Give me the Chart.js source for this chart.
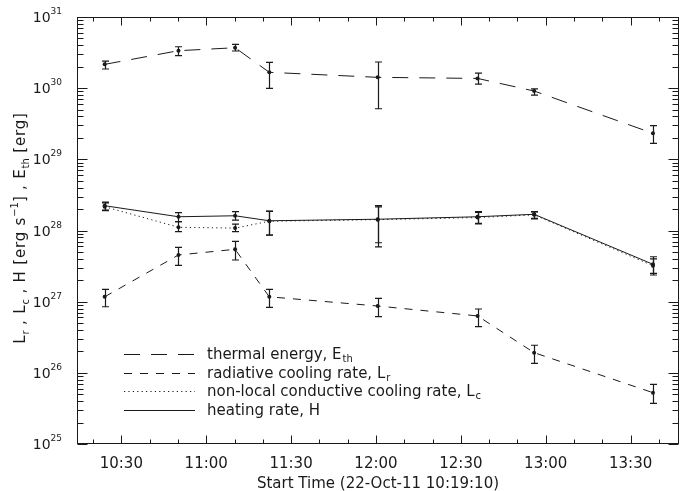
<!DOCTYPE html>
<html>
<head>
<meta charset="utf-8">
<script src="https://cdn.jsdelivr.net/npm/chart.js@4.4.1/dist/chart.umd.min.js"></script>
<style>
  html, body { margin: 0; padding: 0; background: #ffffff; }
  #chart { display: block; }
</style>
</head>
<body>
<canvas id="chart" width="683" height="491"></canvas>
<script>
// observation times, minutes after 10:00 UT
const timeMinutes = [24.1, 50.2, 70.2, 82.3, 120.6, 155.9, 175.9, 217.9];

// thermal energy E_th [erg]
const thermalEnergy = [2.16e30, 3.36e30, 3.70e30, 1.67e30, 1.42e30, 1.37e30, 9.12e29, 2.32e29];
const thermalLow    = [1.86e30, 2.86e30, 3.33e30, 9.96e29, 5.14e29, 1.14e30, 8.00e29, 1.68e29];
const thermalHigh   = [2.40e30, 3.82e30, 4.13e30, 2.31e30, 2.33e30, 1.63e30, 9.80e29, 2.97e29];

// radiative cooling rate L_r [erg s^-1]
const radiative     = [1.17e27, 4.53e27, 5.44e27, 1.17e27, 8.69e26, 6.30e26, 1.92e26, 5.26e25];
const radiativeLow  = [8.49e26, 3.24e27, 3.85e27, 8.33e26, 6.15e26, 4.45e26, 1.36e26, 3.73e25];
const radiativeHigh = [1.49e27, 5.81e27, 7.05e27, 1.49e27, 1.11e27, 7.89e26, 2.44e26, 6.90e25];

// non-local conductive cooling rate L_c [erg s^-1]
const conductive     = [2.16e28, 1.11e28, 1.08e28, 1.35e28, 1.42e28, 1.52e28, 1.66e28, 3.20e27];
const conductiveLow  = [1.90e28, 9.62e27, 9.62e27, 8.60e27, 5.90e27, 1.24e28, 1.46e28, 2.50e27];
const conductiveHigh = [2.45e28, 1.33e28, 1.23e28, 1.86e28, 2.15e28, 1.80e28, 1.82e28, 4.00e27];

// heating rate H [erg s^-1]
const heating     = [2.23e28, 1.56e28, 1.61e28, 1.37e28, 1.44e28, 1.56e28, 1.69e28, 3.35e27];
const heatingLow  = [1.94e28, 1.33e28, 1.40e28, 8.65e27, 6.73e27, 1.26e28, 1.48e28, 2.37e27];
const heatingHigh = [2.51e28, 1.78e28, 1.84e28, 1.88e28, 2.23e28, 1.84e28, 1.84e28, 4.28e27];

// axes
const xTickValues = [30, 60, 90, 120, 150, 180, 210];
const xTickLabels = ['10:30', '11:00', '11:30', '12:00', '12:30', '13:00', '13:30'];
const yDecades = [25, 26, 27, 28, 29, 30, 31];

const INK = '#1a1a1a';
const FONT = '"DejaVu Sans", sans-serif';

function toPoints(values) {
    return values.map((v, i) => ({ x: timeMinutes[i], y: v }));
}

const series = [
    { label: 'thermal energy, E', sub: 'th', data: thermalEnergy, lo: thermalLow, hi: thermalHigh, dash: [16, 11] },
    { label: 'radiative cooling rate, L', sub: 'r', data: radiative, lo: radiativeLow, hi: radiativeHigh, dash: [8, 8] },
    { label: 'non-local conductive cooling rate, L', sub: 'c', data: conductive, lo: conductiveLow, hi: conductiveHigh, dash: [1.2, 3.2] },
    { label: 'heating rate, H', sub: '', data: heating, lo: heatingLow, hi: heatingHigh, dash: [] }
];

// error bars drawn with the chart's own scales
const errorBarPlugin = {
    id: 'errorBars',
    afterDatasetsDraw(chart) {
        const ctx = chart.ctx;
        const xs = chart.scales.x, ys = chart.scales.y;
        ctx.save();
        ctx.strokeStyle = INK;
        ctx.lineWidth = 1.2;
        ctx.setLineDash([]);
        series.forEach(s => {
            timeMinutes.forEach((t, i) => {
                const px = Math.round(xs.getPixelForValue(t)) + 0.5;
                const y1 = ys.getPixelForValue(s.lo[i]);
                const y2 = ys.getPixelForValue(s.hi[i]);
                ctx.beginPath();
                ctx.moveTo(px, y1); ctx.lineTo(px, y2);
                ctx.moveTo(px - 3.5, y1); ctx.lineTo(px + 3.5, y1);
                ctx.moveTo(px - 3.5, y2); ctx.lineTo(px + 3.5, y2);
                ctx.stroke();
            });
        });
        ctx.restore();
    }
};

// IDL-style box with inward ticks, labels, titles and legend
const framePlugin = {
    id: 'frame',
    afterDraw(chart) {
        const ctx = chart.ctx;
        const a = chart.chartArea;
        const xs = chart.scales.x, ys = chart.scales.y;
        const L = a.left + 0.5, R = a.right - 0.5, T = a.top + 0.5, B = a.bottom - 0.5;
        ctx.save();
        ctx.strokeStyle = INK;
        ctx.fillStyle = INK;
        ctx.lineWidth = 1;
        ctx.setLineDash([]);
        ctx.strokeRect(L, T, R - L, B - T);

        ctx.beginPath();
        // x ticks every 10 minutes, majors every 30
        for (let m = 20; m <= 220; m += 10) {
            const px = Math.round(xs.getPixelForValue(m)) + 0.5;
            const len = (m % 30 === 0) ? 8 : 4;
            ctx.moveTo(px, B); ctx.lineTo(px, B - len);
            ctx.moveTo(px, T); ctx.lineTo(px, T + len);
        }
        // y ticks: decades and 2..9 minors
        yDecades.forEach(d => {
            for (let k = 1; k <= 9; k++) {
                if (d === 31 && k > 1) break;
                const py = Math.round(ys.getPixelForValue(k * Math.pow(10, d))) + 0.5;
                const len = k === 1 ? 10 : 6;
                ctx.moveTo(L, py); ctx.lineTo(L + len, py);
                ctx.moveTo(R, py); ctx.lineTo(R - len, py);
            }
        });
        ctx.stroke();

        // x tick labels
        ctx.font = '15px ' + FONT;
        ctx.textAlign = 'center';
        ctx.textBaseline = 'alphabetic';
        xTickValues.forEach((v, i) => {
            ctx.fillText(xTickLabels[i], xs.getPixelForValue(v), 468);
        });

        // y tick labels 10^n
        yDecades.forEach(d => {
            const py = ys.getPixelForValue(Math.pow(10, d));
            ctx.font = '9px ' + FONT;
            const ws = ctx.measureText(String(d)).width;
            ctx.font = '14px ' + FONT;
            const wb = ctx.measureText('10').width;
            const right = 62;
            ctx.textAlign = 'left';
            ctx.fillText('10', right - ws - wb, py + 5);
            ctx.font = '9px ' + FONT;
            ctx.fillText(String(d), right - ws, py - 3);
        });

        // x title
        ctx.font = '15px ' + FONT;
        ctx.textAlign = 'center';
        ctx.fillText('Start Time (22-Oct-11 10:19:10)', (a.left + a.right) / 2, 488);

        // y title with sub/superscripts
        const parts = [
            ['L', 0], ['r', 1], [' , L', 0], ['c', 1], [' , H [erg s', 0], ['\u22121', 2],
            ['] , E', 0], ['th', 1], [' [erg]', 0]
        ];
        const setPartFont = p => {
            ctx.font = (p[1] ? '10px ' : '15px ') + FONT;
            ctx.letterSpacing = p[1] ? '0px' : '0.8px';
        };
        const measure = p => {
            setPartFont(p);
            return ctx.measureText(p[0]).width;
        };
        const total = parts.reduce((s, p) => s + measure(p), 0);
        ctx.translate(25, 228);
        ctx.rotate(-Math.PI / 2);
        ctx.textAlign = 'left';
        let cx = -total / 2;
        parts.forEach(p => {
            const w = measure(p);
            setPartFont(p);
            const dy = p[1] === 1 ? 4 : (p[1] === 2 ? -7 : 0);
            ctx.fillText(p[0], cx, dy);
            cx += w;
        });
        ctx.letterSpacing = '0px';
        ctx.setTransform(1, 0, 0, 1, 0, 0);

        // legend
        const rows = [354, 373, 391, 410];
        series.forEach((s, i) => {
            const y = rows[i] + 0.5;
            ctx.beginPath();
            ctx.setLineDash(s.dash);
            ctx.lineWidth = 1;
            ctx.moveTo(124, y); ctx.lineTo(195, y);
            ctx.stroke();
            ctx.setLineDash([]);
            ctx.font = '15px ' + FONT;
            ctx.textAlign = 'left';
            ctx.fillText(s.label, 207, rows[i] + 5);
            if (s.sub) {
                const w = ctx.measureText(s.label).width;
                ctx.font = '10px ' + FONT;
                ctx.fillText(s.sub, 207 + w + 1, rows[i] + 8);
            }
        });
        ctx.restore();
    }
};

const chart = new Chart(document.getElementById('chart'), {
    type: 'line',
    data: {
        datasets: series.map(s => ({
            label: s.label + s.sub,
            data: toPoints(s.data),
            borderColor: INK,
            borderWidth: 1,
            borderDash: s.dash,
            backgroundColor: INK,
            pointRadius: 2,
            pointBorderWidth: 0,
            pointBackgroundColor: INK,
            fill: false,
            tension: 0
        }))
    },
    options: {
        responsive: false,
        animation: false,
        devicePixelRatio: 1,
        layout: { padding: { left: 77, right: 3, top: 17, bottom: 47 } },
        plugins: {
            legend: { display: false },
            tooltip: { enabled: false }
        },
        scales: {
            x: { type: 'linear', min: 14.33, max: 227.1, display: false },
            y: { type: 'logarithmic', min: 1e25, max: 1e31, display: false }
        }
    },
    plugins: [errorBarPlugin, framePlugin]
});
</script>
</body>
</html>
